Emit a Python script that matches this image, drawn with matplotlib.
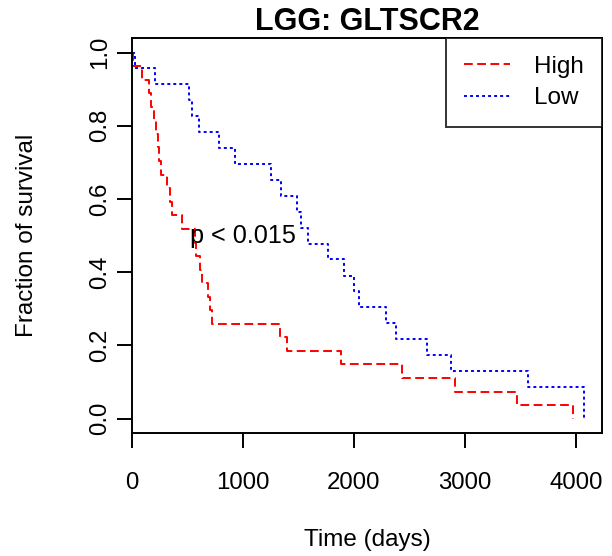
import matplotlib
matplotlib.use('Agg')
import matplotlib.pyplot as plt

plt.rcParams['font.family'] = ['Liberation Sans', 'DejaVu Sans']

# Kaplan-Meier steps (time in days, survival fraction)
high_time = [0, 7, 92, 157, 175, 196, 218, 230, 245, 263, 317, 340, 361, 455,
             571, 575, 611, 630, 686, 706, 722, 1337, 1397, 1885, 2432, 2906,
             3467, 3977]
high_surv = [1.0, 0.963, 0.926, 0.889, 0.852, 0.815, 0.778, 0.741, 0.704,
             0.667, 0.630, 0.593, 0.556, 0.519, 0.481, 0.444, 0.407, 0.370,
             0.333, 0.296, 0.259, 0.222, 0.185, 0.148, 0.111, 0.074, 0.037, 0.0]

low_time = [0, 31, 211, 511, 540, 601, 787, 931, 1252, 1342, 1486, 1520, 1582,
            1762, 1912, 2002, 2041, 2288, 2378, 2657, 2876, 3566, 4075]
low_surv = [1.0, 0.957, 0.913, 0.870, 0.826, 0.783, 0.739, 0.696, 0.652,
            0.609, 0.565, 0.522, 0.478, 0.435, 0.391, 0.348, 0.304, 0.261,
            0.217, 0.174, 0.130, 0.087, 0.0]

x_ticks = [0, 1000, 2000, 3000, 4000]
y_ticks = [0.0, 0.2, 0.4, 0.6, 0.8, 1.0]
title = 'LGG: GLTSCR2'
p_label = 'p < 0.015'

W, H = 612, 556
fig = plt.figure(figsize=(W / 100, H / 100), dpi=100)
ax = fig.add_axes([132 / W, 1 - 433.3 / H, (602 - 132) / W, (433.3 - 38) / H])

ax.step(high_time, high_surv, where='post', color='#FF0000', lw=1.4,
        linestyle=(0, (4.5, 2.3)), label='High')
ax.step(low_time, low_surv, where='post', color='#0000FF', lw=1.4,
        linestyle=(0, (1.5, 1.6)), label='Low')

ax.set_xlim(0, 4235)
ax.set_ylim(-0.04, 1.04)
ax.set_xticks(x_ticks)
ax.set_xticklabels([str(v) for v in x_ticks])
ax.set_yticks(y_ticks)
ax.set_yticklabels([f'{v:.1f}' for v in y_ticks], rotation=90, va='center')

for s in ax.spines.values():
    s.set_linewidth(1.4)
    s.set_color('black')
ax.tick_params(axis='both', direction='out', length=10.5, width=1.4,
               labelsize=17.3, colors='black')
ax.tick_params(axis='x', pad=17.5)
ax.tick_params(axis='y', pad=4.5)

ax.set_title(title, fontsize=22, fontweight='bold', pad=5.8)
ax.set_xlabel('Time (days)', fontsize=17.5)
ax.set_ylabel('Fraction of survival', fontsize=17.5)
ax.xaxis.set_label_coords(0.5, -0.243)
ax.yaxis.set_label_coords(-0.199, 0.5)

ax.text(1000, 0.5, p_label, ha='center', va='center', fontsize=18.2)

leg = ax.legend(loc='upper right', fontsize=17.5, frameon=True, fancybox=False,
                borderaxespad=0, borderpad=0.74, handlelength=1.9,
                handletextpad=1.0, labelspacing=0.37)
leg.get_frame().set_edgecolor('black')
leg.get_frame().set_linewidth(1.4)

fig.savefig('out.png', dpi=100)
